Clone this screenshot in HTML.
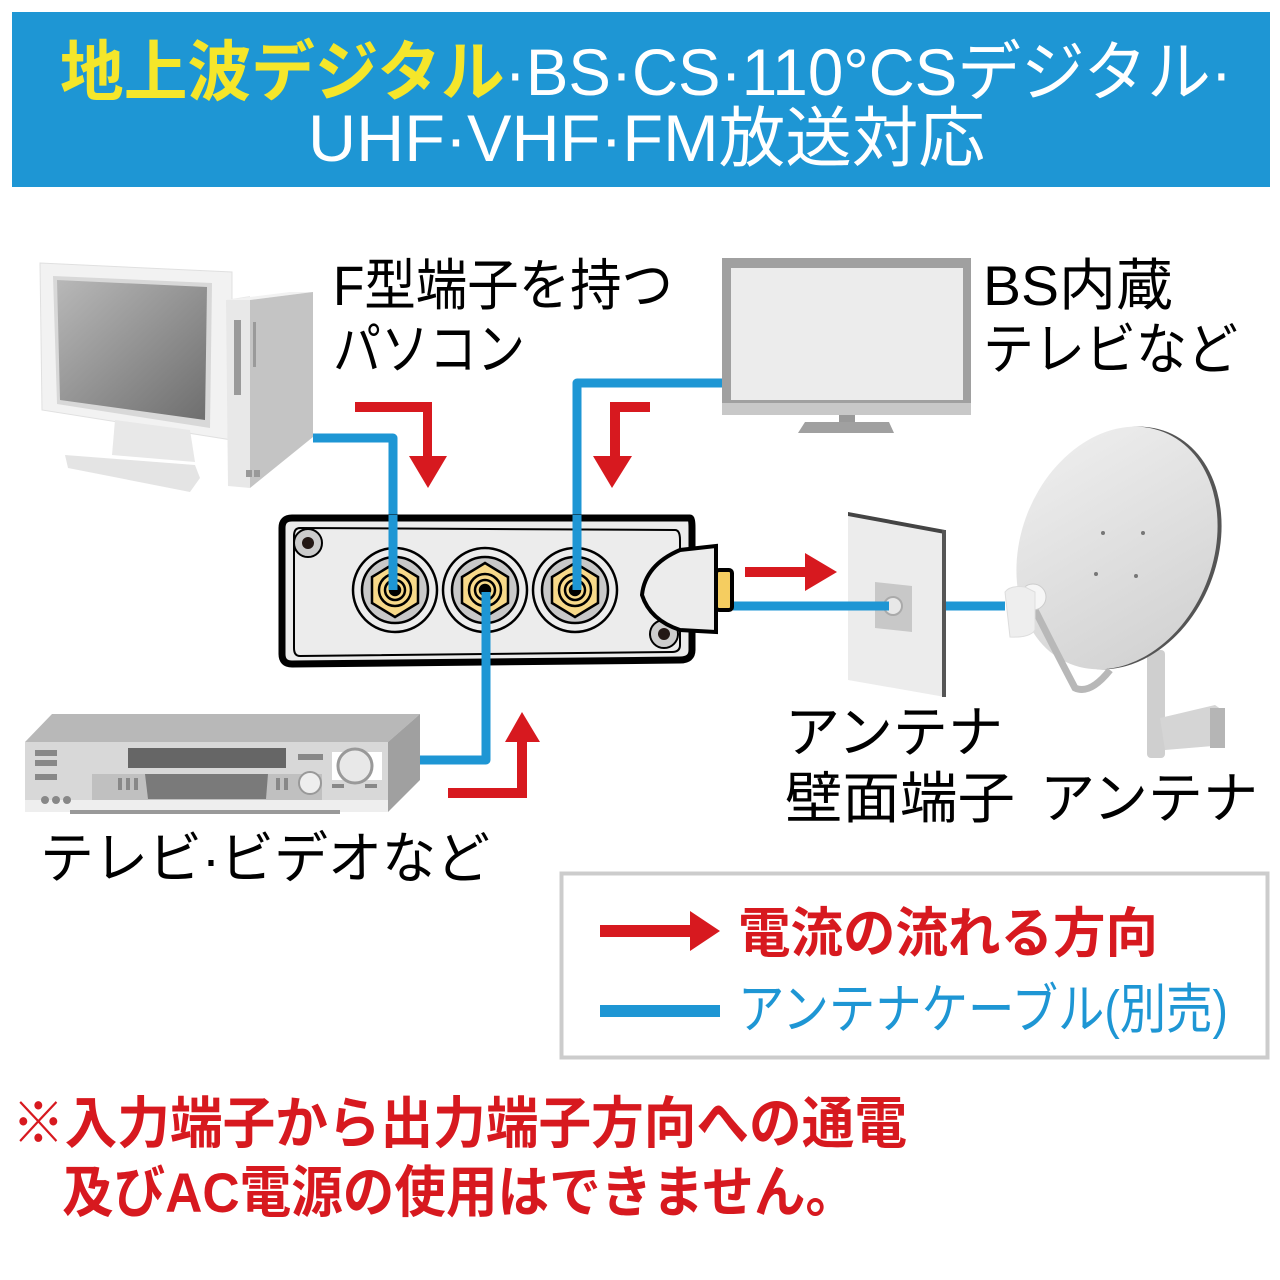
<!DOCTYPE html>
<html><head><meta charset="utf-8"><style>
html,body{margin:0;padding:0;background:#fff;}
svg{display:block;}
text{font-family:"Liberation Sans","Noto Sans CJK JP",sans-serif;}
</style></head><body>
<svg width="1280" height="1280" viewBox="0 0 1280 1280" xmlns="http://www.w3.org/2000/svg">
<defs>
<linearGradient id="scr" x1="0" y1="0" x2="1" y2="1"><stop offset="0" stop-color="#b8b8b8"/><stop offset="1" stop-color="#6e6e6e"/></linearGradient>
<linearGradient id="dish" x1="0" y1="0" x2="1" y2="1"><stop offset="0" stop-color="#f0f0f0"/><stop offset="1" stop-color="#cfcfcf"/></linearGradient>
</defs>
<rect width="1280" height="1280" fill="#fff"/>
<!-- header -->
<rect x="12" y="12" width="1258" height="175" fill="#1e96d4"/>
<text y="95" font-size="66" textLength="1172" lengthAdjust="spacingAndGlyphs" x="60"><tspan fill="#f5e62a" font-weight="bold">地上波デジタル</tspan><tspan fill="#fff">·BS·CS·110°CSデジタル·</tspan></text>
<text x="308" y="161" font-size="66" fill="#fff" textLength="677" lengthAdjust="spacingAndGlyphs">UHF·VHF·FM放送対応</text>

<!-- PC monitor -->
<polygon points="40,263 232,272 232,440 42,410" fill="#f2f2f2" stroke="#e0e0e0"/>
<polygon points="53,276 212,283 210,428 57,404" fill="#d8d8d8"/>
<polygon points="57,280 207,287 205,420 60,400" fill="url(#scr)"/>
<polygon points="115,420 190,430 195,462 112,455" fill="#e8e8e8"/>
<polygon points="65,455 195,465 200,478 190,492 68,468" fill="#e4e4e4"/>
<!-- tower -->
<polygon points="226,300 250,296 250,488 228,486" fill="#e8e8e8"/>
<polygon points="226,300 290,292 313,292 250,300" fill="#f2f2f2"/>
<polygon points="250,300 313,292 313,437 250,488" fill="#c4c4c4"/>
<rect x="234" y="320" width="7" height="75" fill="#9a9a9a"/>
<rect x="253" y="322" width="3" height="45" fill="#9a9a9a"/>
<rect x="246" y="470" width="6" height="7" fill="#999"/><rect x="254" y="470" width="6" height="7" fill="#999"/>

<!-- labels -->
<g font-size="56" fill="#000">
<text x="333" y="305" textLength="340" lengthAdjust="spacingAndGlyphs">F型端子を持つ</text>
<text x="333" y="369" textLength="192" lengthAdjust="spacingAndGlyphs">パソコン</text>
<text x="983" y="305" textLength="190" lengthAdjust="spacingAndGlyphs">BS内蔵</text>
<text x="983" y="369" textLength="255" lengthAdjust="spacingAndGlyphs">テレビなど</text>
<text x="785" y="752" textLength="218" lengthAdjust="spacingAndGlyphs">アンテナ</text>
<text x="785" y="818" textLength="230" lengthAdjust="spacingAndGlyphs">壁面端子</text>
<text x="1040" y="818" textLength="218" lengthAdjust="spacingAndGlyphs">アンテナ</text>
<text x="40" y="878" textLength="450" lengthAdjust="spacingAndGlyphs">テレビ·ビデオなど</text>
</g>

<!-- TV -->
<rect x="722" y="258" width="249" height="150" fill="#a0a0a0"/>
<rect x="731" y="268" width="232" height="132" fill="#ececec"/>
<rect x="722" y="403" width="249" height="12" fill="#c8c8c8"/>
<rect x="839" y="415" width="16" height="7" fill="#999"/>
<polygon points="805,422 889,422 894,433 798,433" fill="#a0a0a0"/>

<!-- blue cables -->
<g fill="none" stroke="#1e96d4" stroke-width="9" stroke-linejoin="round">
<polyline points="313,438 393,438 393,590"/>
<polyline points="722,383 577,383 577,590"/>
<polyline points="420,760 486,760 486,592"/>
<line x1="733" y1="606" x2="893" y2="606"/>
<line x1="945" y1="606" x2="1005" y2="606"/>
</g>

<!-- red arrows -->
<g fill="#d7191f">
<polygon points="355,402 432,402 432,456 447,456 428,488 409,456 423,456 423,412 355,412"/>
<polygon points="650,402 610,402 610,456 593,456 612,488 632,456 620,456 620,412 650,412"/>
<polygon points="448,788 517,788 517,742 505,742 522,712 540,742 527,742 527,798 448,798"/>
<polygon points="745,567 805,567 805,553 837,572 805,591 805,577 745,577"/>
</g>

<!-- device -->
<path d="M292,518 L690,518 Q692,518 692,528 L692,650 Q692,660 680,660 L292,664 Q282,664 282,654 L282,528 Q282,518 292,518 Z" fill="#ececec" stroke="#000" stroke-width="7"/>
<path d="M300,528 L675,530 Q680,530 680,540 L680,645 Q680,652 672,652 L300,656 Q294,656 294,648 L294,536 Q294,528 300,528 Z" fill="none" stroke="#000" stroke-width="2"/>
<circle cx="308" cy="543" r="14" fill="#ccc" stroke="#000" stroke-width="2"/><circle cx="308" cy="543" r="6" fill="#231815"/>
<circle cx="664" cy="634" r="14" fill="#ccc" stroke="#000" stroke-width="2"/><circle cx="664" cy="634" r="6" fill="#231815"/>
<g stroke="#000" stroke-width="2.5">
<g transform="translate(395,590)"><circle r="42" fill="#ececec"/><circle r="33" fill="#c8c8c8"/><polygon points="0,-27 23,-13 23,13 0,27 -23,13 -23,-13" fill="#f7d98a"/><circle r="16" fill="none"/><circle r="10" fill="none"/><circle r="5" fill="#000"/></g>
<g transform="translate(485,590)"><circle r="42" fill="#ececec"/><circle r="33" fill="#c8c8c8"/><polygon points="0,-27 23,-13 23,13 0,27 -23,13 -23,-13" fill="#f7d98a"/><circle r="16" fill="none"/><circle r="10" fill="none"/><circle r="5" fill="#000"/></g>
<g transform="translate(575,590)"><circle r="42" fill="#ececec"/><circle r="33" fill="#c8c8c8"/><polygon points="0,-27 23,-13 23,13 0,27 -23,13 -23,-13" fill="#f7d98a"/><circle r="16" fill="none"/><circle r="10" fill="none"/><circle r="5" fill="#000"/></g>
</g>
<g fill="none" stroke="#1e96d4" stroke-width="9"><line x1="393" y1="515" x2="393" y2="590"/><line x1="577" y1="515" x2="577" y2="590"/><line x1="486" y1="592" x2="486" y2="670"/></g>
<!-- plug -->
<rect x="716" y="570" width="16" height="40" rx="3" fill="#f5cd60" stroke="#000" stroke-width="4"/>
<path d="M716,546 L716,632 L680,630 Q650,620 642,595 Q645,565 680,550 Z" fill="#ececec" stroke="#000" stroke-width="4"/>

<!-- wall plate -->
<polygon points="848,512 945,530 945,697 848,680" fill="#ececec"/>
<polygon points="848,512 945,530 945,534 848,516" fill="#444"/>
<rect x="942" y="530" width="4" height="167" fill="#555"/>
<polygon points="875,582 912,586 912,632 875,628" fill="#c8c8c8"/>
<circle cx="893" cy="606" r="9" fill="#e8e8e8" stroke="#aaa" stroke-width="2"/>
<line x1="848" y1="606" x2="889" y2="606" stroke="#1e96d4" stroke-width="9"/>

<!-- dish -->
<rect x="1147" y="650" width="18" height="108" rx="4" fill="#cfcfcf"/>
<polygon points="1160,718 1215,705 1225,712 1225,745 1165,750" fill="#d5d5d5"/>
<rect x="1210" y="708" width="15" height="40" fill="#b5b5b5"/>
<ellipse cx="1121" cy="548" rx="96" ry="125" transform="rotate(22 1121 548)" fill="#555"/>
<ellipse cx="1117" cy="548" rx="96" ry="125" transform="rotate(22 1117 548)" fill="url(#dish)"/>
<g fill="#777"><circle cx="1103" cy="533" r="2"/><circle cx="1143" cy="533" r="2"/><circle cx="1096" cy="574" r="2"/><circle cx="1136" cy="576" r="2"/></g>
<path d="M1030,600 Q1055,650 1075,688 Q1090,695 1110,670" fill="none" stroke="#b8b8b8" stroke-width="7"/>
<circle cx="1033" cy="597" r="13" fill="#f6f6f6" stroke="#ccc"/>
<path d="M1005,592 Q1010,585 1025,587 L1035,592 L1035,630 Q1030,638 1010,637 Z" fill="#eeeeee" stroke="#ddd"/>

<!-- VCR -->
<polygon points="25,742 52,714 420,714 388,742" fill="#b8b8b8"/>
<polygon points="388,742 420,714 420,780 388,812" fill="#a0a0a0"/>
<rect x="25" y="742" width="363" height="70" fill="#d8d8d8"/>
<rect x="25" y="800" width="363" height="12" fill="#eee"/>
<rect x="70" y="810" width="270" height="4" fill="#999"/>
<rect x="128" y="748" width="158" height="20" fill="#666"/>
<rect x="92" y="774" width="230" height="26" fill="#c0c0c0"/>
<polygon points="145,774 268,774 266,799 148,799" fill="#7a7a7a"/>
<g fill="#888"><rect x="35" y="750" width="22" height="6"/><rect x="35" y="760" width="22" height="6"/><rect x="35" y="774" width="22" height="6"/><rect x="298" y="754" width="25" height="6"/><rect x="118" y="778" width="4" height="12"/><rect x="126" y="778" width="4" height="12"/><rect x="134" y="778" width="4" height="12"/><rect x="276" y="778" width="4" height="12"/><rect x="284" y="778" width="4" height="12"/><rect x="332" y="784" width="12" height="4"/><rect x="365" y="784" width="12" height="4"/></g>
<g fill="#888"><circle cx="45" cy="800" r="4"/><circle cx="56" cy="800" r="4"/><circle cx="67" cy="800" r="4"/></g>
<rect x="332" y="752" width="50" height="28" fill="#fff"/>
<circle cx="355" cy="766" r="17" fill="#e8e8e8" stroke="#999" stroke-width="3"/>
<circle cx="310" cy="783" r="11" fill="#eee" stroke="#999" stroke-width="2"/>

<!-- legend -->
<rect x="561.5" y="873.5" width="706" height="184" fill="#fff" stroke="#cccccc" stroke-width="4"/>
<polygon points="600,925 690,925 690,911 720,931 690,951 690,937 600,937" fill="#d7191f"/>
<rect x="600" y="1005" width="120" height="12" fill="#1e96d4"/>
<text x="738" y="952" font-size="54" font-weight="bold" fill="#d7191f" textLength="420" lengthAdjust="spacingAndGlyphs">電流の流れる方向</text>
<text x="738" y="1028" font-size="54" fill="#1e96d4" textLength="490" lengthAdjust="spacingAndGlyphs">アンテナケーブル(別売)</text>

<!-- notes -->
<text x="12" y="1143" font-size="56" font-weight="bold" fill="#d7191f" textLength="895" lengthAdjust="spacingAndGlyphs">※入力端子から出力端子方向への通電</text>
<text x="62" y="1212" font-size="56" font-weight="bold" fill="#d7191f" textLength="795" lengthAdjust="spacingAndGlyphs">及びAC電源の使用はできません。</text>
</svg>
</body></html>
